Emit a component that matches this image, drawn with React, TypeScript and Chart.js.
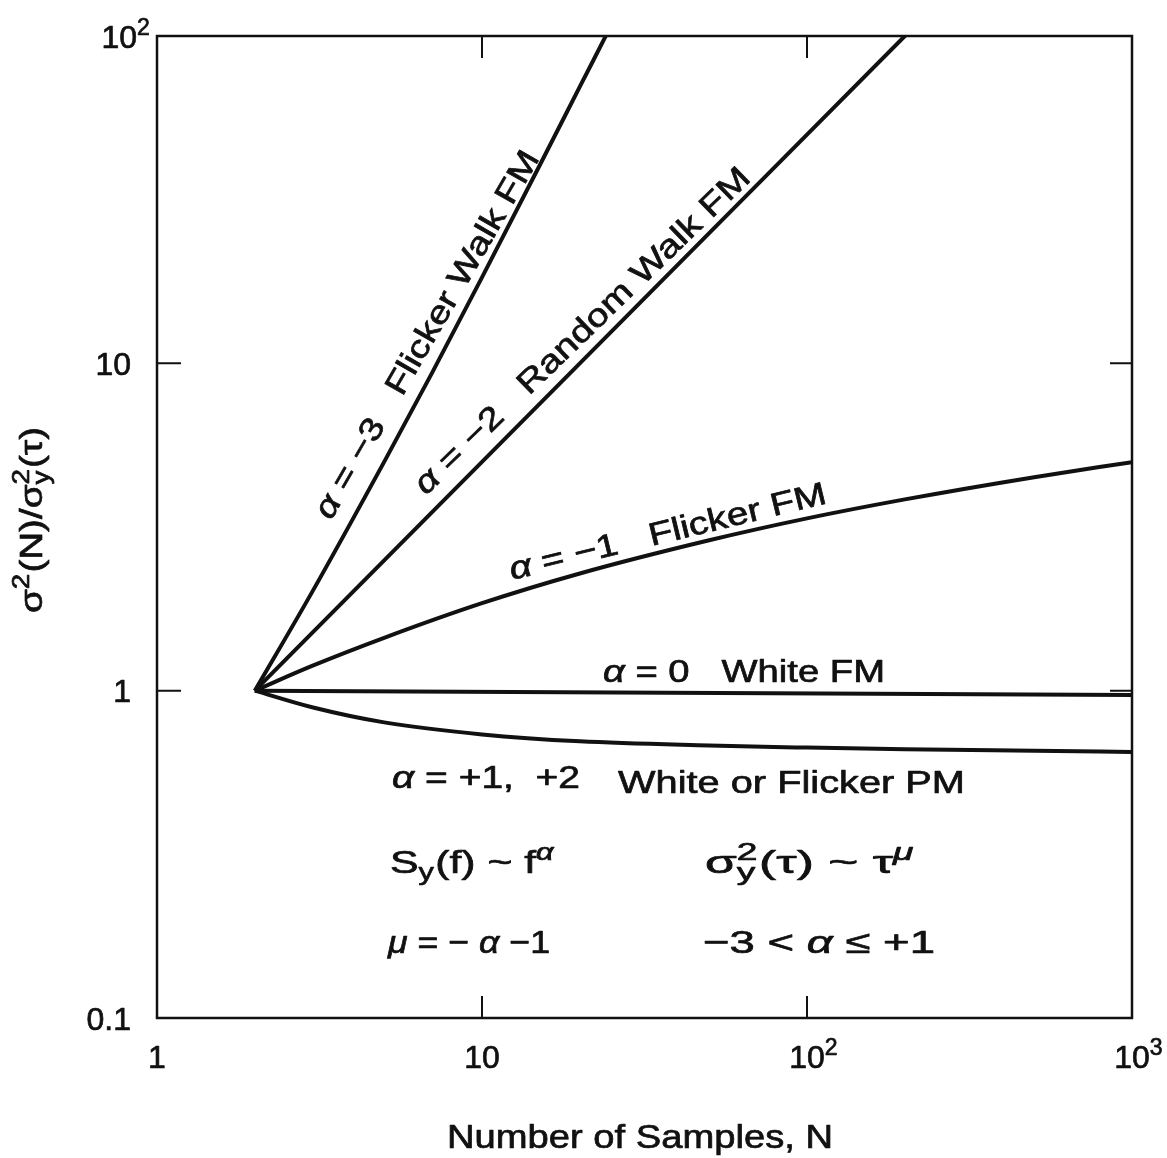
import React, { useEffect, useRef } from "react";
import { Chart, registerables } from "chart.js";

Chart.register(...registerables);

// ---- Data (log-log) ----
const nFlickerWalk = [2, 3, 5, 7, 10, 15, 20, 25, 28];
const vFlickerWalk = [1, 2, 5, 9.3, 18.3, 40, 70, 108, 135];

const nRandomWalk = [2, 10, 50, 100, 200, 250];
const vRandomWalk = [1, 5, 25, 50, 100, 125];

const nFlickerFM = [2, 3, 5, 10, 20, 50, 100, 200, 500, 1000];
const vFlickerFM = [1, 1.19, 1.45, 1.85, 2.28, 2.88, 3.36, 3.84, 4.49, 4.99];

const nWhiteFM = [2, 1000];
const vWhiteFM = [1, 0.97];

const nWhitePM = [2, 3, 5, 10, 20, 50, 100, 200, 500, 1000];
const vWhitePM = [1, 0.89, 0.8, 0.735, 0.7, 0.68, 0.67, 0.662, 0.655, 0.65];

// ---- Axes ----
const xMin = 1;
const xMax = 1000;
const yMin = 0.1;
const yMax = 100;
const xTickValues = [1, 10, 100, 1000];
const xTickMain = ["1", "10", "10", "10"];
const xTickSup = ["", "", "2", "3"];
const yTickValues = [0.1, 1, 10, 100];
const yTickMain = ["0.1", "1", "10", "10"];
const yTickSup = ["", "", "", "2"];
const xTickMarks = [10, 100];
const yTickMarks = [1, 10];

const FONT = '"Liberation Sans", Arial, Helvetica, sans-serif';
const INK = "#111";
const SCRIPT = 0.72;

type Seg = { t?: string; it?: boolean; sup?: string; sub?: string };

function fontOf(size: number, it?: boolean) {
  return `${it ? "italic " : ""}${size}px ${FONT}`;
}

function measureSegs(ctx: CanvasRenderingContext2D, segs: Seg[], size: number) {
  let w = 0;
  for (const s of segs) {
    if (s.t !== undefined) {
      ctx.font = fontOf(size, s.it);
      w += ctx.measureText(s.t).width;
    } else {
      ctx.font = fontOf(size * SCRIPT, s.it);
      let sw = 0;
      if (s.sup) sw = Math.max(sw, ctx.measureText(s.sup).width);
      if (s.sub) sw = Math.max(sw, ctx.measureText(s.sub).width);
      w += sw + 1;
    }
  }
  return w;
}

function put(ctx: CanvasRenderingContext2D, t: string, x: number, y: number) {
  ctx.fillText(t, x, y);
  ctx.strokeText(t, x, y);
}

function drawSegs(ctx: CanvasRenderingContext2D, segs: Seg[], size: number, x0: number, y0: number) {
  let x = x0;
  for (const s of segs) {
    if (s.t !== undefined) {
      ctx.font = fontOf(size, s.it);
      put(ctx, s.t, x, y0);
      x += ctx.measureText(s.t).width;
    } else {
      ctx.font = fontOf(size * SCRIPT, s.it);
      let sw = 0;
      if (s.sup) {
        put(ctx, s.sup, x, y0 - size * 0.4);
        sw = Math.max(sw, ctx.measureText(s.sup).width);
      }
      if (s.sub) {
        put(ctx, s.sub, x, y0 + size * 0.22);
        sw = Math.max(sw, ctx.measureText(s.sub).width);
      }
      x += sw + 1;
    }
  }
}

// draw text along a baseline from (x0,y0) to (x1,y1), stretched to fit
function drawFitted(
  ctx: CanvasRenderingContext2D,
  segs: Seg[],
  size: number,
  x0: number,
  y0: number,
  x1: number,
  y1: number
) {
  const L = Math.hypot(x1 - x0, y1 - y0);
  const ang = Math.atan2(y1 - y0, x1 - x0);
  const W = measureSegs(ctx, segs, size);
  const sx = L / W;
  ctx.save();
  ctx.translate(x0, y0);
  ctx.rotate(ang);
  ctx.scale(sx, 1);
  ctx.textAlign = "left";
  ctx.textBaseline = "alphabetic";
  drawSegs(ctx, segs, size, 0, 0);
  ctx.restore();
}

type Label = { segs: Seg[]; size: number; p: [number, number, number, number] };

const labels: Label[] = [
  { segs: [{ t: "α", it: true }, { t: " = −3   Flicker Walk FM" }], size: 32, p: [331, 521, 540, 158] },
  { segs: [{ t: "α", it: true }, { t: " = −2   Random Walk FM" }], size: 32, p: [426, 496, 752, 180] },
  { segs: [{ t: "α", it: true }, { t: " = −1   Flicker FM" }], size: 32, p: [512, 580, 828, 503] },
  { segs: [{ t: "α", it: true }, { t: " = 0   White FM" }], size: 32, p: [603, 682, 885, 682] },
  { segs: [{ t: "α", it: true }, { t: " = +1,  +2" }], size: 32, p: [392, 788, 580, 788] },
  { segs: [{ t: "White or Flicker PM" }], size: 32, p: [618, 793, 965, 793] },
  {
    segs: [{ t: "S" }, { sub: "y" }, { t: "(f) ~ f" }, { sup: "α", it: true }],
    size: 32,
    p: [390, 873, 555, 873],
  },
  {
    segs: [{ t: "σ" }, { sub: "y", sup: "2" }, { t: "(τ) ~ τ" }, { sup: "μ", it: true }],
    size: 32,
    p: [705, 873, 915, 873],
  },
  {
    segs: [{ t: "μ", it: true }, { t: " = − " }, { t: "α", it: true }, { t: " −1" }],
    size: 32,
    p: [388, 953, 550, 953],
  },
  {
    segs: [{ t: "−3 < " }, { t: "α", it: true }, { t: " ≤ +1" }],
    size: 32,
    p: [703, 953, 935, 953],
  },
  // axis titles
  {
    segs: [{ t: "σ" }, { sup: "2" }, { t: "(N)/σ" }, { sub: "y", sup: "2" }, { t: "(τ)" }],
    size: 32,
    p: [42, 613, 42, 427],
  },
  { segs: [{ t: "Number of Samples, N" }], size: 33, p: [447, 1148, 833, 1148] },
];

const decorPlugin = {
  id: "decor",
  afterDraw(chart: any) {
    const ctx: CanvasRenderingContext2D = chart.ctx;
    const { left, right, top, bottom } = chart.chartArea;
    const xs = chart.scales.x;
    const ys = chart.scales.y;
    ctx.save();
    ctx.strokeStyle = INK;
    ctx.fillStyle = INK;

    // frame
    ctx.lineWidth = 2.5;
    ctx.strokeRect(left, top, right - left, bottom - top);

    // inside tick marks
    ctx.lineWidth = 2;
    ctx.beginPath();
    for (const v of xTickMarks) {
      const px = xs.getPixelForValue(v);
      ctx.moveTo(px, bottom);
      ctx.lineTo(px, bottom - 22);
      ctx.moveTo(px, top);
      ctx.lineTo(px, top + 22);
    }
    for (const v of yTickMarks) {
      const py = ys.getPixelForValue(v);
      ctx.moveTo(left, py);
      ctx.lineTo(left + 24, py);
      ctx.moveTo(right, py);
      ctx.lineTo(right - 22, py);
    }
    ctx.stroke();

    // text stroke for a slightly heavier, scanned-print look
    ctx.lineWidth = 0.7;
    ctx.lineJoin = "round";

    // tick labels
    const ts = 32;
    ctx.textAlign = "left";
    ctx.textBaseline = "alphabetic";
    xTickValues.forEach((v, i) => {
      const px = xs.getPixelForValue(v);
      ctx.font = fontOf(ts);
      const mw = ctx.measureText(xTickMain[i]).width;
      const segs: Seg[] = [{ t: xTickMain[i] }];
      if (xTickSup[i]) segs.push({ sup: xTickSup[i] });
      drawSegs(ctx, segs, ts, px - mw / 2, bottom + 50);
    });
    yTickValues.forEach((v, i) => {
      const py = ys.getPixelForValue(v);
      ctx.font = fontOf(ts);
      const mw = ctx.measureText(yTickMain[i]).width;
      const segs: Seg[] = [{ t: yTickMain[i] }];
      if (yTickSup[i]) segs.push({ sup: yTickSup[i] });
      const shift = yTickSup[i] ? 6 : 0;
      drawSegs(ctx, segs, ts, left - 26 - mw + shift, py + ts * 0.36);
    });

    // annotations and titles
    for (const l of labels) {
      drawFitted(ctx, l.segs, l.size, l.p[0], l.p[1], l.p[2], l.p[3]);
    }
    ctx.restore();
  },
};

function pts(ns: number[], vs: number[]) {
  return ns.map((n, i) => ({ x: n, y: vs[i] }));
}

export default function App() {
  const ref = useRef<HTMLCanvasElement>(null);
  useEffect(() => {
    if (!ref.current) return;
    const base = {
      borderColor: INK,
      borderWidth: 4,
      pointRadius: 0,
      fill: false,
      borderJoinStyle: "round" as const,
    };
    const chart = new Chart(ref.current, {
      type: "line",
      data: {
        datasets: [
          { ...base, label: "Flicker Walk FM", data: pts(nFlickerWalk, vFlickerWalk), cubicInterpolationMode: "monotone" },
          { ...base, label: "Random Walk FM", data: pts(nRandomWalk, vRandomWalk), tension: 0 },
          { ...base, label: "Flicker FM", data: pts(nFlickerFM, vFlickerFM), cubicInterpolationMode: "monotone" },
          { ...base, label: "White FM", data: pts(nWhiteFM, vWhiteFM), tension: 0 },
          { ...base, label: "White or Flicker PM", data: pts(nWhitePM, vWhitePM), cubicInterpolationMode: "monotone" },
        ],
      },
      options: {
        responsive: false,
        animation: false,
        events: [],
        layout: { padding: { left: 0, top: 36, right: 35, bottom: 0 } },
        plugins: { legend: { display: false }, tooltip: { enabled: false } },
        scales: {
          x: {
            type: "logarithmic",
            min: xMin,
            max: xMax,
            ticks: { display: false },
            grid: { display: false, drawTicks: false },
            border: { display: false },
            afterFit: (s: any) => {
              s.height = 140;
            },
          },
          y: {
            type: "logarithmic",
            min: yMin,
            max: yMax,
            ticks: { display: false },
            grid: { display: false, drawTicks: false },
            border: { display: false },
            afterFit: (s: any) => {
              s.width = 157;
            },
          },
        },
      },
      plugins: [decorPlugin],
    } as any);
    return () => chart.destroy();
  }, []);
  return (
    <div style={{ position: "absolute", left: 0, top: 0, width: 1167, height: 1158, background: "#fff" }}>
      <canvas ref={ref} width={1167} height={1158} style={{ display: "block", width: 1167, height: 1158 }} />
    </div>
  );
}
